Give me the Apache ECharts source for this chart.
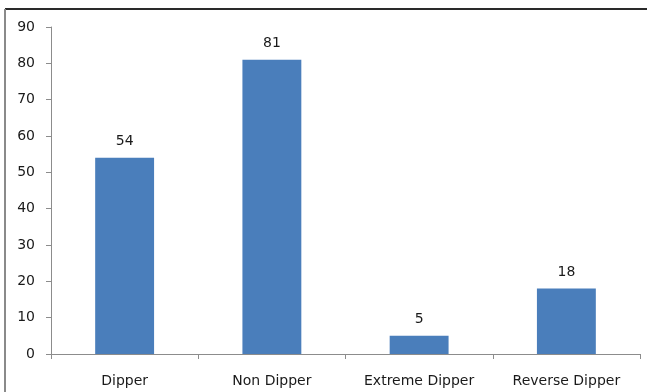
<!DOCTYPE html>
<html>
<head>
<meta charset="utf-8">
<script src="https://cdn.jsdelivr.net/npm/echarts@6/dist/echarts.min.js"></script>
<style>html,body{margin:0;padding:0;background:#fff;}#c{width:647px;height:392px;}</style>
</head>
<body>
<div id="c"></div>
<script>
const categories = ['Dipper', 'Non Dipper', 'Extreme Dipper', 'Reverse Dipper'];
const values = [54, 81, 5, 18];
const yTicks = { min: 0, max: 90, interval: 10 };

const chart = echarts.init(document.getElementById('c'), null, { renderer: 'canvas' });
const font = 'DejaVu Sans';
chart.setOption({
  animation: false,
  graphic: [
    { type: 'line', shape: { x1: 5, y1: 9, x2: 647, y2: 9 }, style: { stroke: '#2a2a2a', lineWidth: 2 } },
    { type: 'line', shape: { x1: 5, y1: 9, x2: 5, y2: 392 }, style: { stroke: '#8a8a8a', lineWidth: 2 } }
  ],
  grid: { left: 51, right: 7, top: 27, bottom: 38 },
  xAxis: {
    type: 'category',
    data: categories,
    axisLine: { lineStyle: { color: '#8c8c8c', width: 1 } },
    axisTick: { show: true, length: 5, lineStyle: { color: '#8c8c8c' } },
    axisLabel: { color: '#1a1a1a', fontSize: 14, fontFamily: font, margin: 20 }
  },
  yAxis: {
    type: 'value',
    min: yTicks.min, max: yTicks.max, interval: yTicks.interval,
    splitLine: { show: false },
    axisLine: { show: true, lineStyle: { color: '#8c8c8c', width: 1 } },
    axisTick: { show: true, length: 5, lineStyle: { color: '#8c8c8c' } },
    axisLabel: { color: '#1a1a1a', fontSize: 14, fontFamily: font, margin: 16 }
  },
  series: [{
    type: 'bar',
    data: values,
    barWidth: '40%',
    itemStyle: { color: '#4a7ebb' },
    label: { show: true, position: 'top', distance: 9, color: '#1a1a1a', fontSize: 14, fontFamily: font }
  }]
});
</script>
</body>
</html>
